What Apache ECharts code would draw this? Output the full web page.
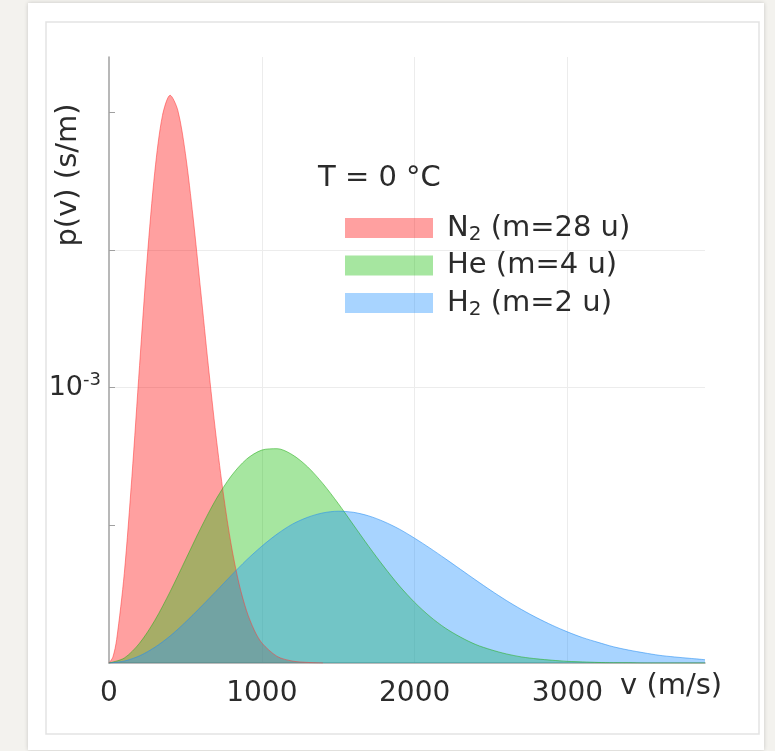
<!DOCTYPE html>
<html>
<head>
<meta charset="utf-8">
<script src="https://cdn.jsdelivr.net/npm/echarts@6/dist/echarts.min.js"></script>
<style>
  html, body { margin: 0; padding: 0; background: #f3f2ee; }
  #chart { width: 775px; height: 751px; }
</style>
</head>
<body>
<div id="chart"></div>
<script>
// speeds (m/s) and densities in units of 10^-3 s/m
const vN2 = [0, 25, 50, 100, 150, 200, 250, 300, 350, 400, 450, 500, 550, 600, 650, 700,
  750, 800, 850, 900, 950, 1000, 1100, 1200, 1300, 1400]
const pN2 = [0, 0.021, 0.085, 0.325, 0.677, 1.080, 1.469, 1.785, 1.988, 2.061, 2.007, 1.849, 1.619, 1.351, 1.079, 0.826,
  0.607, 0.428, 0.290, 0.190, 0.120, 0.073, 0.024, 0.007, 0.002, 0]

const vLight = [0, 100, 200, 300, 400, 500, 600, 700, 800, 900, 1000, 1100, 1200, 1300, 1400,
  1500, 1600, 1700, 1800, 1900, 2000, 2100, 2200, 2300, 2400, 2500, 2600, 2700, 2800, 2900,
  3000, 3100, 3200, 3300, 3400, 3500, 3600, 3700, 3800, 3900]
const pHe = [0, 0.018, 0.072, 0.155, 0.259, 0.374, 0.489, 0.594, 0.679, 0.740, 0.773, 0.778, 0.756, 0.712, 0.651,
  0.579, 0.501, 0.423, 0.349, 0.280, 0.220, 0.169, 0.127, 0.094, 0.067, 0.048, 0.033, 0.022, 0.015, 0.010,
  0.006, 0.004, 0.002, 0.001, 0.001, 0, 0, 0, 0, 0]
const pH2 = [0, 0.007, 0.026, 0.057, 0.098, 0.148, 0.203, 0.260, 0.318, 0.374, 0.424, 0.468, 0.504, 0.529, 0.545,
  0.551, 0.547, 0.534, 0.513, 0.486, 0.453, 0.417, 0.379, 0.340, 0.301, 0.263, 0.227, 0.194, 0.164, 0.137,
  0.113, 0.092, 0.075, 0.059, 0.047, 0.037, 0.028, 0.022, 0.017, 0.012]

const xLabels = [0, 1000, 2000, 3000]
const yTicks = [0.5, 1, 1.5, 2]
const yLabels = [1]

const font = "'DejaVu Sans', 'Liberation Sans', Arial, sans-serif"
const textColor = '#2b2b2b'

const pairs = (xs, ys) => xs.map((x, i) => [x, ys[i]])

const chart = echarts.init(document.getElementById('chart'))

function gasSeries(name, data, fill, edge) {
  return {
    name: name,
    type: 'line',
    data: data,
    smooth: 0.3,
    showSymbol: false,
    symbol: 'none',
    itemStyle: { color: fill },
    lineStyle: { width: 1, color: edge },
    areaStyle: { color: fill, opacity: 1 },
    silent: true
  }
}

const option = {
  animation: false,
  textStyle: { fontFamily: font },
  graphic: [
    { type: 'rect', z: -10, shape: { x: 28, y: 3, width: 736, height: 747 },
      style: { fill: '#fff', shadowBlur: 4, shadowColor: 'rgba(0,0,0,0.18)' } },
    { type: 'rect', z: -9, shape: { x: 46, y: 22, width: 713, height: 712 },
      style: { fill: '#fff', stroke: '#e3e3e3', lineWidth: 1.5 } },
    { type: 'text', z: 50, x: 68, y: 175, rotation: Math.PI / 2,
      style: { text: 'p(v) (s/m)', font: '29px ' + font, fill: textColor,
        textAlign: 'center', textVerticalAlign: 'middle' } },
    { type: 'text', z: 50, x: 620, y: 686,
      style: { text: 'v (m/s)', font: '29px ' + font, fill: textColor,
        textAlign: 'left', textVerticalAlign: 'middle' } }
  ],
  title: {
    text: 'T = 0 °C',
    left: 313,
    top: 159,
    textStyle: { fontSize: 29, fontWeight: 'normal', color: textColor, fontFamily: font }
  },
  legend: {
    orient: 'vertical',
    left: 340,
    top: 206,
    icon: 'rect',
    itemWidth: 88,
    itemHeight: 20,
    itemGap: 6,
    selectedMode: false,
    data: ['N2', 'He', 'H2'],
    formatter: function (name) {
      if (name === 'N2') return '{a|N}{s|2}{a| (m=28 u)}'
      if (name === 'He') return '{a|He (m=4 u)}'
      return '{a|H}{s|2}{a| (m=2 u)}'
    },
    textStyle: {
      color: textColor,
      padding: [0, 0, 0, 9],
      rich: {
        a: { fontSize: 29, lineHeight: 31, color: textColor, fontFamily: font },
        s: { fontSize: 20, lineHeight: 31, color: textColor, fontFamily: font, padding: [14, 0, 0, 0] }
      }
    }
  },
  grid: { left: 109, right: 70, top: 57, bottom: 88 },
  xAxis: {
    type: 'value',
    min: 0,
    max: 3900,
    interval: 1000,
    axisLine: { show: true, onZero: false, lineStyle: { color: '#a5a5a5', width: 1.5 } },
    axisTick: { show: false },
    axisLabel: {
      customValues: xLabels,
      fontSize: 28,
      color: textColor,
      margin: 17,
      fontFamily: font,
      formatter: function (v) { return String(v) }
    },
    splitLine: { show: true, showMinLine: false, showMaxLine: false, lineStyle: { color: '#ececec', width: 1 } }
  },
  yAxis: {
    type: 'value',
    min: 0,
    max: 2.2,
    interval: 0.5,
    axisLine: { show: true, lineStyle: { color: '#a0a0a0', width: 1.5 } },
    axisTick: { show: true, inside: true, length: 6, customValues: yTicks, lineStyle: { color: '#a0a0a0' } },
    axisLabel: {
      customValues: yLabels,
      margin: 8,
      formatter: function () { return '{b|10}{s|-3}' },
      rich: {
        b: { fontSize: 27, color: textColor, fontFamily: font },
        s: { fontSize: 18, color: textColor, fontFamily: font, padding: [0, 0, 14, 0] }
      }
    },
    splitLine: { show: true, showMinLine: false, showMaxLine: false, lineStyle: { color: '#ececec', width: 1 } }
  },
  series: [
    gasSeries('N2', pairs(vN2, pN2), 'rgba(255,17,17,0.4)', 'rgba(255,60,60,0.55)'),
    gasSeries('He', pairs(vLight, pHe), 'rgba(32,192,17,0.4)', 'rgba(40,175,30,0.55)'),
    gasSeries('H2', pairs(vLight, pH2), 'rgba(37,147,255,0.4)', 'rgba(37,140,240,0.55)')
  ]
}

chart.setOption(option)
</script>
</body>
</html>
